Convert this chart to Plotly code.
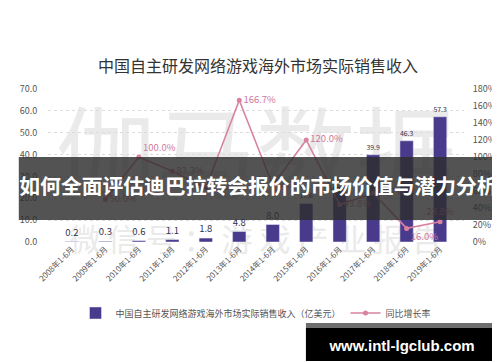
import plotly.graph_objects as go

categories = ["2008年1-6月", "2009年1-6月", "2010年1-6月", "2011年1-6月", "2012年1-6月",
              "2013年1-6月", "2014年1-6月", "2015年1-6月", "2016年1-6月", "2017年1-6月",
              "2018年1-6月", "2019年1-6月"]
revenue = [0.2, 0.3, 0.6, 1.1, 1.8, 4.8, 8.0, 17.6, 25.3, 39.9, 46.3, 57.3]
revenue_labels = ["0.2", "0.3", "0.6", "1.1", "1.8", "4.8", "8.0", "17.6", "25.3", "39.9", "46.3", "57.3"]
growth = [None, 50.0, 100.0, 83.3, 63.6, 166.7, 66.7, 120.0, 43.8, 57.7, 16.0, 23.8]
growth_labels = ["", "50.0%", "100.0%", "83.3%", "63.6%", "166.7%", "66.7%", "120.0%",
                 "43.8%", "57.7%", "16.0%", "23.8%"]
growth_pos = ["middle right"] * 10 + ["bottom right", "top center"]
growth_pos[2] = "top right"

FONT = "Noto Sans CJK SC, Noto Sans, sans-serif"
BAR = "#4a3a8c"
LINE = "#d9829f"

fig = go.Figure()
fig.add_trace(go.Bar(
    x=categories, y=revenue, name="中国自主研发网络游戏海外市场实际销售收入（亿美元）",
    marker=dict(color=BAR), width=0.4,
    text=revenue_labels, textposition="outside", cliponaxis=False,
    textfont=dict(size=9.5, color="#33334d", family=FONT),
))
fig.add_trace(go.Scatter(
    x=categories, y=growth, name="同比增长率", yaxis="y2",
    mode="lines+markers+text", line=dict(color=LINE, width=1.6),
    marker=dict(size=5, color=LINE),
    text=growth_labels, textposition=growth_pos, cliponaxis=False,
    textfont=dict(size=9.5, color="#d0789a", family=FONT),
))

shapes = [
    # faint watermark
    dict(type="rect", xref="paper", yref="paper", x0=0, x1=1, y0=0.35, y1=0.68,
         line=dict(width=0), layer="below",
         label=dict(text="伽马数据", font=dict(size=100, color="#eaeaea", family=FONT),
                    textposition="middle center")),
    dict(type="rect", xref="paper", yref="paper", x0=0, x1=1, y0=-0.05, y1=0.05,
         line=dict(width=0), layer="below",
         label=dict(text="微 信 号 ： 游 戏 产 业 报 告", font=dict(size=31, color="#eaeaea", family=FONT),
                    textposition="middle center")),
    # banner
    dict(type="rect", xref="paper", yref="paper", x0=-0.0702, x1=1.0821, y0=0.1438, y1=0.5556,
         line=dict(width=0), fillcolor="rgba(45,45,45,0.82)", layer="above",
         label=dict(text="<b>如何全面评估迪巴拉转会报价的市场价值与潜力分析</b>",
                    font=dict(size=20.8, color="white", family="Noto Sans CJK SC"),
                    textposition="middle center")),
    # site watermark box
    dict(type="rect", xref="paper", yref="paper", x0=0.620, x1=1.082, y0=-0.562, y1=-0.529,
         line=dict(width=0), fillcolor="#6e6e6e", layer="above"),
    dict(type="rect", xref="paper", yref="paper", x0=0.620, x1=1.082, y0=-0.778, y1=-0.562,
         line=dict(width=0), fillcolor="#000000", layer="above",
         label=dict(text="<b>www.intl-lgclub.com</b>",
                    font=dict(size=15, color="white", family="Liberation Sans, Arial, sans-serif"),
                    textposition="middle center")),
]

fig.update_layout(
    width=500, height=362,
    margin=dict(l=37.5, r=42.5, t=81, b=128),
    paper_bgcolor="white", plot_bgcolor="white",
    font=dict(family=FONT, color="#555555", size=9),
    title=dict(text="中国自主研发网络游戏海外市场实际销售收入", x=0.5, xanchor="center",
               y=1 - 58 / 362, yanchor="middle",
               font=dict(size=16, color="#333333", family=FONT)),
    xaxis=dict(tickangle=-45, tickfont=dict(size=8, color="#555555"), showgrid=False,
               showline=False, ticks=""),
    yaxis=dict(range=[0, 70], dtick=10, tickformat=".1f", showgrid=True,
               gridcolor="#dddddd", griddash="dot", zeroline=False,
               tickfont=dict(size=9, color="#555555"), ticks="outside", ticklen=8,
               tickcolor="rgba(0,0,0,0)"),
    yaxis2=dict(range=[0, 180], dtick=20, ticksuffix="%", overlaying="y", side="right",
                showgrid=False, zeroline=False, tickfont=dict(size=9, color="#555555"),
                ticks="outside", ticklen=6, tickcolor="rgba(0,0,0,0)"),
    legend=dict(orientation="h", x=0.5, xanchor="center", y=-0.464, yanchor="middle",
                font=dict(size=9, color="#555555"), itemwidth=30, bgcolor="rgba(0,0,0,0)"),
    bargap=0.6,
    shapes=shapes,
)

fig.write_html("out.html")
